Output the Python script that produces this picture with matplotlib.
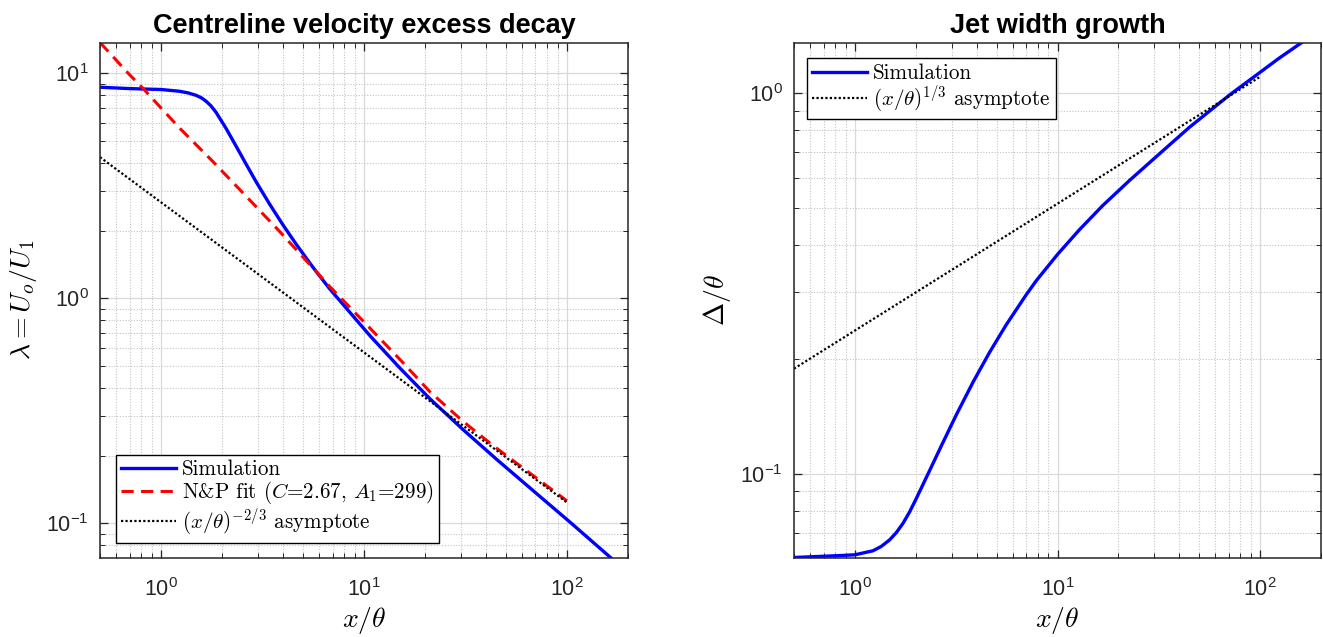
import matplotlib
matplotlib.use("Agg")
import matplotlib.pyplot as plt
import matplotlib.ticker as mticker

plt.rcParams['font.family'] = ['Liberation Sans', 'DejaVu Sans']
plt.rcParams['mathtext.fontset'] = 'cm'

# ── data ────────────────────────────────────────────────────────────────────
# centreline velocity excess, simulation
sim_x_lam = [0.5, 0.698, 1.0, 1.231, 1.36, 1.488, 1.58, 1.667, 1.76, 1.867,
             2.093, 2.344, 2.627, 2.943, 3.42, 3.98, 4.63, 5.6, 6.77, 10.66,
             15.0, 21.1, 30.8, 45.6, 73.5, 105, 164]
sim_lam = [8.67, 8.55, 8.47, 8.32, 8.18, 7.98, 7.78, 7.51, 7.17, 6.70,
           5.68, 4.74, 3.94, 3.29, 2.63, 2.125, 1.741, 1.375, 1.103, 0.685,
           0.491, 0.3585, 0.261, 0.1908, 0.132, 0.1003, 0.0706]

# N&P fit
np_x = [0.5, 0.698, 0.811, 1.231, 1.797, 2.627, 3.834, 5.6, 6.77, 10.66,
        15.5, 21.1, 30.8, 43.2, 100]
np_lam = [13.7, 9.87, 8.6, 5.72, 4.06, 2.84, 1.985, 1.365, 1.13, 0.74,
          0.52, 0.385, 0.284, 0.222, 0.126]

# (x/theta)^(-2/3) asymptote (straight on log-log: end points)
asym_lam_x = [0.5, 100]
asym_lam = [4.24, 0.124]

# jet width, simulation
sim_x_w = [0.5, 0.84, 1.0, 1.227, 1.35, 1.483, 1.6, 1.725, 1.86, 2.009,
           2.336, 2.718, 3.164, 3.821, 4.618, 5.58, 7.01, 7.86, 10.0, 12.84,
           16.7, 22.7, 33.0, 44.9, 70.7, 124, 164]
sim_w = [0.0603, 0.061, 0.0613, 0.0628, 0.0645, 0.0671, 0.0701, 0.0741, 0.0794, 0.0862,
         0.102, 0.1209, 0.1429, 0.1739, 0.2086, 0.2464, 0.2957, 0.322, 0.3773, 0.4383,
         0.5068, 0.5906, 0.705, 0.815, 0.99, 1.236, 1.37]

# (x/theta)^(1/3) asymptote
asym_w_x = [0.5, 100]
asym_w = [0.189, 1.105]

DARK = "#262626"
LEG_FONT = {"family": "cmr10", "size": 15.2}
LEG_KW = dict(borderaxespad=0, prop=LEG_FONT, handlelength=2.6,
              handletextpad=0.3, labelspacing=0.0, borderpad=0.25,
              fancybox=False, framealpha=1, edgecolor="black")

fig = plt.figure(figsize=(13.23, 6.37), dpi=100)
ax1 = fig.add_axes([100 / 1323, 1 - 557.5 / 637, 528 / 1323, 515 / 637])
ax2 = fig.add_axes([794 / 1323, 1 - 557.5 / 637, 527 / 1323, 515 / 637])


def style(ax):
    ax.set_xscale("log")
    ax.set_yscale("log")
    ax.set_xlim(0.5, 200)
    ax.grid(True, which="major", color="#d9d9d9", linestyle="-", linewidth=0.9)
    ax.grid(True, which="minor", color="#c4c4c4", linestyle=(0, (1, 1.5)), linewidth=0.8)
    ax.set_axisbelow(True)
    ax.tick_params(which="both", direction="in", top=True, right=True,
                   colors=DARK, labelsize=15.5)
    ax.tick_params(which="major", length=6, width=0.9)
    ax.tick_params(which="minor", length=3.5, width=0.7)
    ax.tick_params(axis="x", which="major", pad=15)
    ax.tick_params(axis="y", which="major", pad=8)
    ax.yaxis.set_minor_formatter(mticker.NullFormatter())
    ax.xaxis.set_minor_formatter(mticker.NullFormatter())
    for s in ax.spines.values():
        s.set_color(DARK)
        s.set_linewidth(1.1)


# ── left: centreline velocity excess decay ──────────────────────────────────
style(ax1)
ax1.set_ylim(0.0706, 13.7)
ax1.plot(sim_x_lam, sim_lam, color="#0000ff", lw=2.4, label="Simulation")
ax1.plot(np_x, np_lam, color="#ff0000", lw=2.2, dashes=(4, 2.4),
         label=r"N&P fit ($C$=2.67, $A_1$=299)")
ax1.plot(asym_lam_x, asym_lam, color="black", lw=1.6, linestyle=(0, (1, 1)),
         label=r"$(x/\theta)^{-2/3}$ asymptote")
ax1.set_title("Centreline velocity excess decay", fontsize=19.5,
              fontweight="bold", pad=7)
ax1.set_xlabel(r"$x/\theta$", fontsize=20, labelpad=3)
ax1.set_ylabel(r"$\lambda = U_o/U_1$", fontsize=20, labelpad=5)
leg1 = ax1.legend(loc="lower left", bbox_to_anchor=(0.03, 0.029), **LEG_KW)
leg1.get_frame().set_linewidth(1.0)

# ── right: jet width growth ─────────────────────────────────────────────────
style(ax2)
ax2.set_ylim(0.0603, 1.36)
ax2.plot(sim_x_w, sim_w, color="#0000ff", lw=2.4, label="Simulation")
ax2.plot(asym_w_x, asym_w, color="black", lw=1.6, linestyle=(0, (1, 1)),
         label=r"$(x/\theta)^{1/3}$ asymptote")
ax2.set_title("Jet width growth", fontsize=19.5, fontweight="bold", pad=7)
ax2.set_xlabel(r"$x/\theta$", fontsize=20, labelpad=3)
ax2.set_ylabel(r"$\Delta/\theta$", fontsize=20, labelpad=5)
leg2 = ax2.legend(loc="upper left", bbox_to_anchor=(0.024, 0.969), **LEG_KW)
leg2.get_frame().set_linewidth(1.0)

fig.savefig("out.png", dpi=100)
